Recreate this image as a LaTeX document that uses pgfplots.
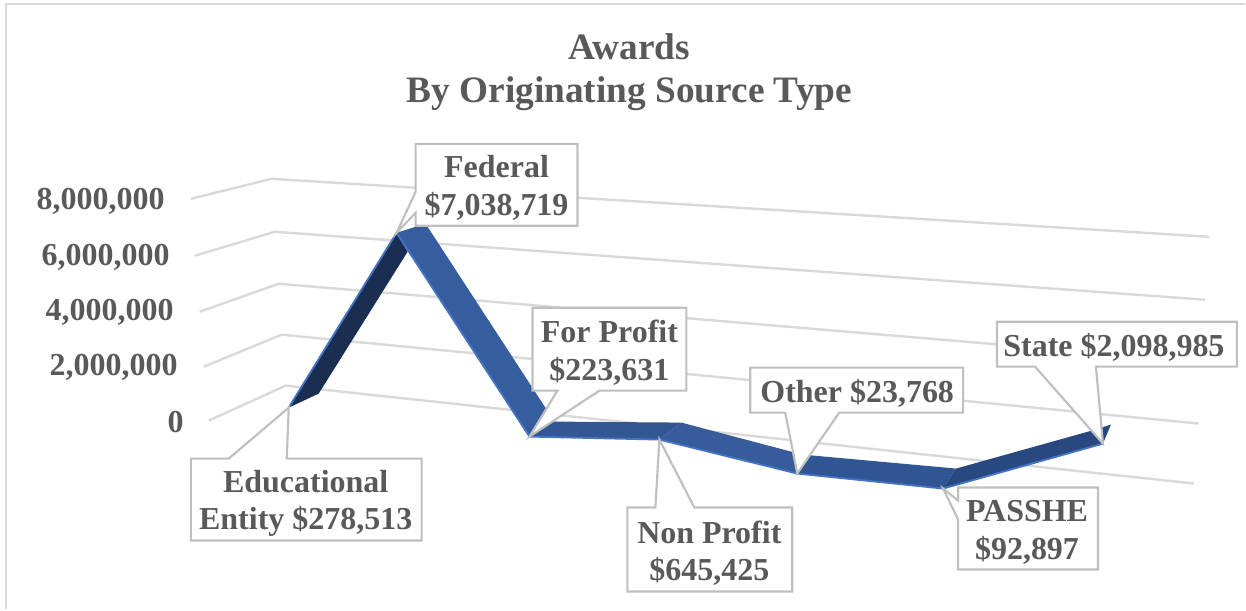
\documentclass[border=0pt]{standalone}
\usepackage{fontspec}
\setmainfont{Liberation Serif}
\usepackage{pgfplots}
\pgfplotsset{compat=1.18}
\definecolor{txt}{HTML}{595959}
\definecolor{gridc}{HTML}{D9D9D9}
\definecolor{boxc}{HTML}{BFBFBF}
\definecolor{edgec}{HTML}{4472C4}
\definecolor{faceA}{HTML}{1A2E52}
\definecolor{faceB}{HTML}{365E9E}
\definecolor{faceC}{HTML}{325793}
\definecolor{faceD}{HTML}{365C9C}
\definecolor{faceE}{HTML}{2F5592}
\definecolor{faceF}{HTML}{29487F}
\newcommand{\lab}{\fontsize{24}{28}\selectfont\bfseries\color{txt}}
\begin{document}
\begin{tikzpicture}
\begin{axis}[
  x=0.75pt, y=0.75pt,
  xmin=0, xmax=1246, ymin=0, ymax=610,
  y dir=reverse,
  hide axis, clip=false,
  every axis plot/.append style={mark=none, line join=round},
  grid line/.style={draw=gridc, line width=1.8pt},
  face/.style={fill=#1, draw=none},
  edge/.style={draw=edgec, line width=1.4pt},
  callout/.style={fill=white, draw=boxc, line width=1.6pt, line join=miter},
]
% keep the page at the full pixel area
\path (axis cs:0,0) rectangle (axis cs:1246,610);
% chart frame
\addplot[draw=gridc, line width=1.8pt] coordinates {(6,610) (6,4) (1246,4)};
% gridlines, floor corner to far end
\addplot[grid line] coordinates {(191,199) (272,179) (1210,237)};
\addplot[grid line] coordinates {(195,256) (275,232) (1206,300)};
\addplot[grid line] coordinates {(200,312) (279,284) (1203,362)};
\addplot[grid line] coordinates {(204,367) (282,335) (1200,424)};
\addplot[grid line] coordinates {(209,421) (286,386) (1195,484)};
% ribbon faces
\addplot[face=faceA] coordinates {(289,408) (397,233) (408,252) (319,394)} --cycle;
\addplot[face=faceB] coordinates {(397,233) (416,227) (428,227) (555,422) (530,437)} --cycle;
\addplot[face=faceC] coordinates {(530,437) (555,422) (682,423) (660,440)} --cycle;
\addplot[face=faceD] coordinates {(660,440) (682,423) (803,455) (798,474)} --cycle;
\addplot[face=faceE] coordinates {(798,474) (803,455) (957,469) (944,489)} --cycle;
\addplot[face=faceF] coordinates {(944,489) (957,469) (1093,431) (1112,425) (1104,444)} --cycle;
% front edge of the ribbon
\addplot[edge] coordinates {(289,408) (397,233)};
\addplot[edge] coordinates {(397,233) (530,437) (660,440) (798,474) (944,489) (1104,444)};
% callouts
\addplot[callout] coordinates {(416,144) (578,144) (578,226) (416,226) (416,213) (397,233) (416,192)} --cycle;
\addplot[callout] coordinates {(533,308) (687,308) (687,391) (600,391) (530,437) (558,391) (533,391)} --cycle;
\addplot[callout] coordinates {(191,459) (229,459) (289,408) (287,459) (422,459) (422,541) (191,541)} --cycle;
\addplot[callout] coordinates {(628,508) (656,508) (660,440) (695,508) (793,508) (793,592) (628,592)} --cycle;
\addplot[callout] coordinates {(751,368) (964,368) (964,413) (840,413) (798,474) (786,413) (751,413)} --cycle;
\addplot[callout] coordinates {(959,488) (1099,488) (1099,570) (959,570) (959,520) (944,489) (959,501)} --cycle;
\addplot[callout] coordinates {(998,322) (1238,322) (1238,367) (1097,367) (1104,444) (1036,367) (998,367)} --cycle;
% title
\node[font=\fontsize{28}{32}\selectfont\bfseries, text=txt, align=center] at (axis cs:630,72)
  {Awards\\By Originating Source Type};
% value axis labels
\node[font=\lab, anchor=east, inner sep=0pt] at (axis cs:165,202) {8,000,000};
\node[font=\lab, anchor=east, inner sep=0pt] at (axis cs:170,258) {6,000,000};
\node[font=\lab, anchor=east, inner sep=0pt] at (axis cs:174,313) {4,000,000};
\node[font=\lab, anchor=east, inner sep=0pt] at (axis cs:178,368) {2,000,000};
\node[font=\lab, anchor=east, inner sep=0pt] at (axis cs:184,422) {0};
% callout text
\node[font=\lab, align=center] at (axis cs:497,188) {Federal\\\$7,038,719};
\node[font=\lab, align=center] at (axis cs:610,353) {For Profit\\\$223,631};
\node[font=\lab, align=center] at (axis cs:306,504) {Educational\\Entity \$278,513};
\node[font=\lab, align=center] at (axis cs:710,554) {Non Profit\\\$645,425};
\node[font=\lab, align=center] at (axis cs:858,394) {Other \$23,768};
\node[font=\lab, align=center] at (axis cs:1028,533) {PASSHE\\\$92,897};
\node[font=\lab, align=center] at (axis cs:1115,348) {State \$2,098,985};
\end{axis}
\end{tikzpicture}
\end{document}
